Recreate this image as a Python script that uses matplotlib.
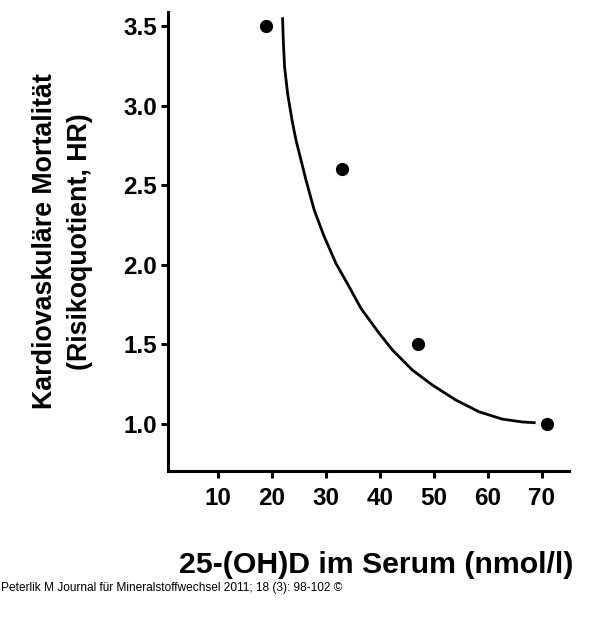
import matplotlib
matplotlib.use("Agg")
import matplotlib.pyplot as plt

# -----------------------------
# Data
# -----------------------------
vitd_nmol = [19, 33, 47, 71]
hazard_ratio = [3.5, 2.6, 1.5, 1.0]

# fitted curve
curve_x = [22.01, 22.14, 22.38, 22.94, 23.75, 24.49, 25.42, 26.34, 27.87, 29.72, 31.89,
           34.34, 36.51, 39.89, 42.35, 46.04, 49.74, 54.07, 58.37, 62.68, 66.38, 68.85]
curve_y = [3.555, 3.412, 3.244, 3.077, 2.910, 2.784, 2.658, 2.533, 2.344, 2.177, 2.009,
           1.862, 1.727, 1.570, 1.465, 1.339, 1.245, 1.151, 1.077, 1.031, 1.013, 1.008]

x_ticks = [10, 20, 30, 40, 50, 60, 70]
y_ticks = [1.0, 1.5, 2.0, 2.5, 3.0, 3.5]

plt.rcParams["font.family"] = ["Liberation Sans", "DejaVu Sans"]

fig = plt.figure(figsize=(6.0, 6.34), dpi=100)
ax = fig.add_axes([0.28, 0.2576, 0.668, 0.724])

ax.plot(curve_x, curve_y, color="black", lw=2.0, solid_capstyle="butt", solid_joinstyle="round")
ax.plot(vitd_nmol, hazard_ratio, "o", color="black", ms=8.5, lw=0)

ax.set_xlim(0.8, 75)
ax.set_ylim(0.707, 3.59)
ax.set_xticks(x_ticks)
ax.set_yticks(y_ticks)
ax.set_xticklabels([str(t) for t in x_ticks], fontsize=17.5, fontweight="bold")
ax.set_yticklabels([f"{t:.1f}" for t in y_ticks], fontsize=17.5, fontweight="bold")

for side in ["top", "right"]:
    ax.spines[side].set_visible(False)
for side in ["left", "bottom"]:
    ax.spines[side].set_linewidth(2.2)
ax.tick_params(direction="out", length=5, width=2.2, pad=3)
ax.tick_params(axis="x", pad=7)

ax.set_xlabel("25-(OH)D im Serum (nmol/l)", fontsize=21.8, fontweight="bold")
ax.xaxis.set_label_coords(0.52, -0.175)
ax.set_ylabel("Kardiovaskuläre Mortalität\n(Risikoquotient, HR)", fontsize=19.3,
              fontweight="bold", labelpad=22, linespacing=1.45)

fig.text(0.002, 0.072, "Peterlik M Journal für Mineralstoffwechsel 2011; 18 (3): 98-102 ©",
         fontsize=8.6, va="center", ha="left")

fig.savefig("out.png", dpi=100)
